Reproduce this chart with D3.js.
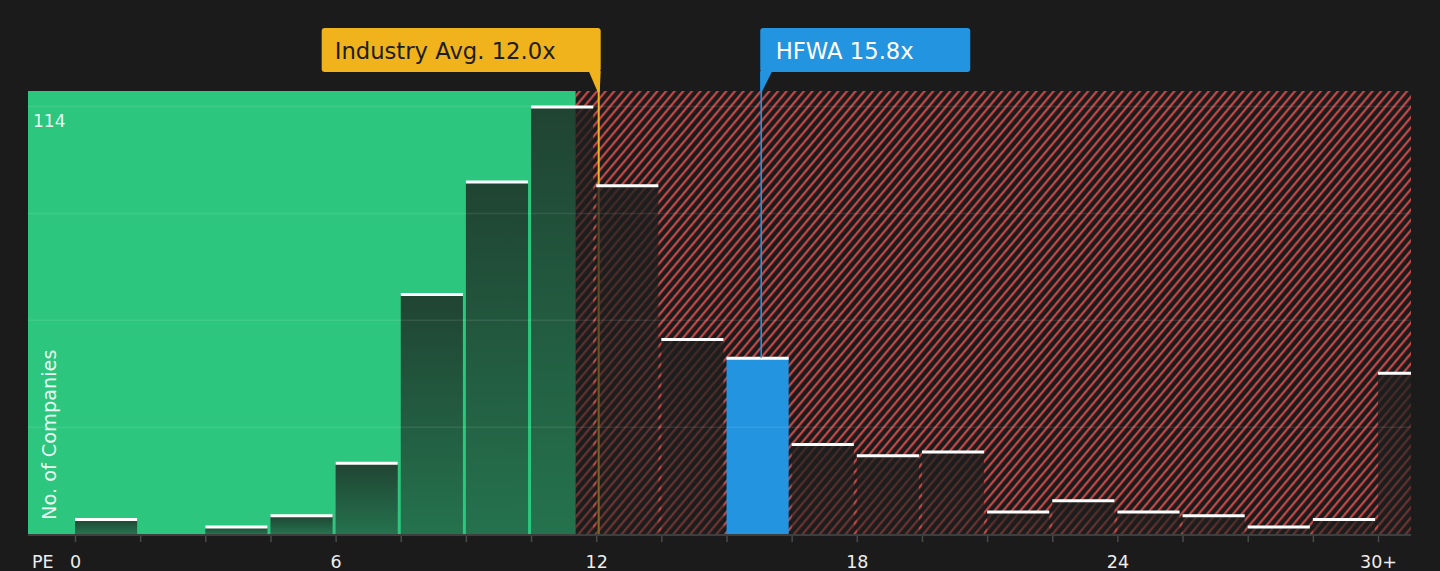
<!DOCTYPE html>
<html>
<head>
<meta charset="utf-8">
<script src="https://cdn.jsdelivr.net/npm/d3@7"></script>
<style>
  html, body { margin: 0; padding: 0; background: #1b1b1b; }
  svg { display: block; font-family: "DejaVu Sans", sans-serif; }
</style>
</head>
<body>
<div id="chart"></div>
<script>
// histogram of PE ratios, bins of 1.5x, last bin is 30+
var binStarts = [0, 1.5, 3, 4.5, 6, 7.5, 9, 10.5, 12, 13.5, 15, 16.5, 18, 19.5, 21, 22.5, 24, 25.5, 27, 28.5, 30];
var counts    = [4, 0, 2, 5, 19, 64, 94, 114, 93, 52, 47, 24, 21, 22, 6, 9, 6, 5, 2, 4, 43];
var binWidth = 1.5;
var tickValues = [0, 6, 12, 18, 24, 30];
var tickLabels = ["0", "6", "12", "18", "24", "30+"];
var yMax = 114;
var gridSteps = [0.25, 0.5, 0.75, 1];
var industryAvg = 12.0;
var fairLimit = 11.53;
var company = "HFWA";
var companyPE = 15.8;

function drawChart() {
  var width = 1440,
      height = 571,
      plotLeft = 28,
      plotRight = 1411,
      plotTop = 91,
      baseline = 534;

  var svg = d3.select("#chart").append("svg")
    .attr("width", width)
    .attr("height", height);

  svg.append("rect")
    .attr("width", width)
    .attr("height", height)
    .attr("fill", "#1b1b1b");

  var x = d3.scaleLinear()
    .domain([0, 30])
    .range([75, 1378]);

  var y = d3.scaleLinear()
    .domain([0, yMax])
    .range([baseline, 106.5]);

  var defs = svg.append("defs");

  var hatch = defs.append("pattern")
    .attr("id", "hatch")
    .attr("patternUnits", "userSpaceOnUse")
    .attr("width", 6.6)
    .attr("height", 6.6)
    .attr("patternTransform", "rotate(40)");
  hatch.append("rect")
    .attr("width", 6.6)
    .attr("height", 6.6)
    .attr("fill", "#1b1b1b");
  hatch.append("line")
    .attr("x1", 1.2).attr("y1", 0)
    .attr("x2", 1.2).attr("y2", 6.6)
    .attr("stroke", "#d04b4b")
    .attr("stroke-width", 2.1);

  var shade = defs.append("linearGradient")
    .attr("id", "shade")
    .attr("x1", 0).attr("y1", 0)
    .attr("x2", 0).attr("y2", 1);
  shade.append("stop").attr("offset", "0%").attr("stop-color", "#1c1f1d").attr("stop-opacity", 0.78);
  shade.append("stop").attr("offset", "100%").attr("stop-color", "#1c1f1d").attr("stop-opacity", 0.5);

  defs.append("clipPath")
    .attr("id", "plotclip")
    .append("rect")
    .attr("x", plotLeft)
    .attr("y", plotTop)
    .attr("width", plotRight - plotLeft)
    .attr("height", baseline - plotTop);

  // green (below average) and hatched red (above) zones
  svg.append("rect")
    .attr("x", plotLeft)
    .attr("y", plotTop)
    .attr("width", x(fairLimit) - plotLeft)
    .attr("height", baseline - plotTop)
    .attr("fill", "#2dc67e");

  svg.append("rect")
    .attr("x", x(fairLimit))
    .attr("y", plotTop)
    .attr("width", plotRight - x(fairLimit))
    .attr("height", baseline - plotTop)
    .attr("fill", "url(#hatch)");

  // industry average line, behind the bars
  var avgX = x(industryAvg) + 2.5;
  svg.append("line")
    .attr("x1", avgX).attr("x2", avgX)
    .attr("y1", 72).attr("y2", baseline)
    .attr("stroke", "#f0b31b")
    .attr("stroke-width", 2);

  var data = binStarts.map((s, i) => ({ start: s, count: counts[i] }));
  var isCompany = d => companyPE >= d.start && companyPE < d.start + binWidth;

  var bars = svg.append("g")
    .attr("id", "bars")
    .attr("clip-path", "url(#plotclip)")
    .selectAll("g")
    .data(data.filter(d => d.count > 0))
    .enter()
    .append("g");

  bars.append("rect")
    .attr("x", d => x(d.start))
    .attr("y", d => y(d.count))
    .attr("width", d => x(d.start + binWidth) - x(d.start) - 3)
    .attr("height", d => baseline - y(d.count))
    .attr("fill", d => isCompany(d) ? "#2394e0" : "url(#shade)");

  bars.append("rect")
    .attr("x", d => x(d.start))
    .attr("y", d => y(d.count) - 1)
    .attr("width", d => x(d.start + binWidth) - x(d.start) - 3)
    .attr("height", 3)
    .attr("fill", "#ffffff");

  // grid lines
  svg.append("g")
    .selectAll("line")
    .data(gridSteps)
    .enter()
    .append("line")
    .attr("x1", plotLeft).attr("x2", plotRight)
    .attr("y1", d => y(d * yMax)).attr("y2", d => y(d * yMax))
    .attr("stroke", "#ffffff")
    .attr("stroke-opacity", 0.09)
    .attr("stroke-width", 1.5);

  svg.append("text")
    .attr("x", 33)
    .attr("y", 127)
    .attr("fill", "#ffffff")
    .attr("fill-opacity", 0.92)
    .attr("font-size", 17)
    .text(yMax);

  svg.append("text")
    .attr("transform", "translate(56,520) rotate(-90)")
    .attr("fill", "#ffffff")
    .attr("fill-opacity", 0.92)
    .attr("font-size", 19.3)
    .text("No. of Companies");

  // x axis
  var xAxis = d3.axisBottom(x)
    .tickValues(binStarts.concat([30]).filter((v, i, a) => a.indexOf(v) === i))
    .tickSize(8)
    .tickPadding(14)
    .tickFormat(d => {
      var k = tickValues.indexOf(d);
      return k >= 0 ? tickLabels[k] : "";
    });

  var ax = svg.append("g")
    .attr("transform", `translate(0, ${baseline})`)
    .call(xAxis);
  ax.select(".domain").remove();
  ax.selectAll(".tick line").attr("stroke", "#4a4a4a").attr("stroke-width", 1.5);
  ax.selectAll(".tick text")
    .attr("fill", "#eeeeee")
    .attr("font-size", 17.5)
    .attr("font-family", "DejaVu Sans, sans-serif");

  svg.append("line")
    .attr("x1", plotLeft).attr("x2", plotRight)
    .attr("y1", baseline + 1).attr("y2", baseline + 1)
    .attr("stroke", "#3e3e3e")
    .attr("stroke-width", 2);

  svg.append("text")
    .attr("x", 32)
    .attr("y", 568)
    .attr("fill", "#eeeeee")
    .attr("font-size", 17.5)
    .text("PE");

  // industry label
  var boxTop = 28, boxH = 44;
  var avgBoxW = 279;
  svg.append("rect")
    .attr("x", avgX + 2 - avgBoxW)
    .attr("y", boxTop)
    .attr("width", avgBoxW)
    .attr("height", boxH)
    .attr("rx", 3)
    .attr("fill", "#f0b31b");
  svg.append("path")
    .attr("d", `M${avgX - 10},${boxTop + boxH - 1} L${avgX + 2},${boxTop + boxH - 1} L${avgX + 1},${boxTop + boxH + 20} L${avgX - 1},${boxTop + boxH + 20} Z`)
    .attr("fill", "#f0b31b");
  svg.append("text")
    .attr("x", avgX + 2 - avgBoxW + 13)
    .attr("y", boxTop + 30.5)
    .attr("fill", "#1e1e1e")
    .attr("font-size", 22.7)
    .text("Industry Avg. " + industryAvg.toFixed(1) + "x");

  // company label
  var pX = x(companyPE);
  var coBoxW = 210;
  svg.append("line")
    .attr("x1", pX).attr("x2", pX)
    .attr("y1", 72).attr("y2", y(counts[binStarts.indexOf(15)]))
    .attr("stroke", "#2394e0")
    .attr("stroke-width", 1.6);
  svg.append("rect")
    .attr("x", pX - 1)
    .attr("y", boxTop)
    .attr("width", coBoxW)
    .attr("height", boxH)
    .attr("rx", 3)
    .attr("fill", "#2394e0");
  svg.append("path")
    .attr("d", `M${pX - 1},${boxTop + boxH - 1} L${pX + 11},${boxTop + boxH - 1} L${pX + 0.5},${boxTop + boxH + 20} L${pX - 1},${boxTop + boxH + 20} Z`)
    .attr("fill", "#2394e0");
  svg.append("text")
    .attr("x", pX + 14.5)
    .attr("y", boxTop + 30.5)
    .attr("fill", "#ffffff")
    .attr("font-size", 22.7)
    .text(company + " " + companyPE.toFixed(1) + "x");
}

window.onload = drawChart;
</script>
</body>
</html>
